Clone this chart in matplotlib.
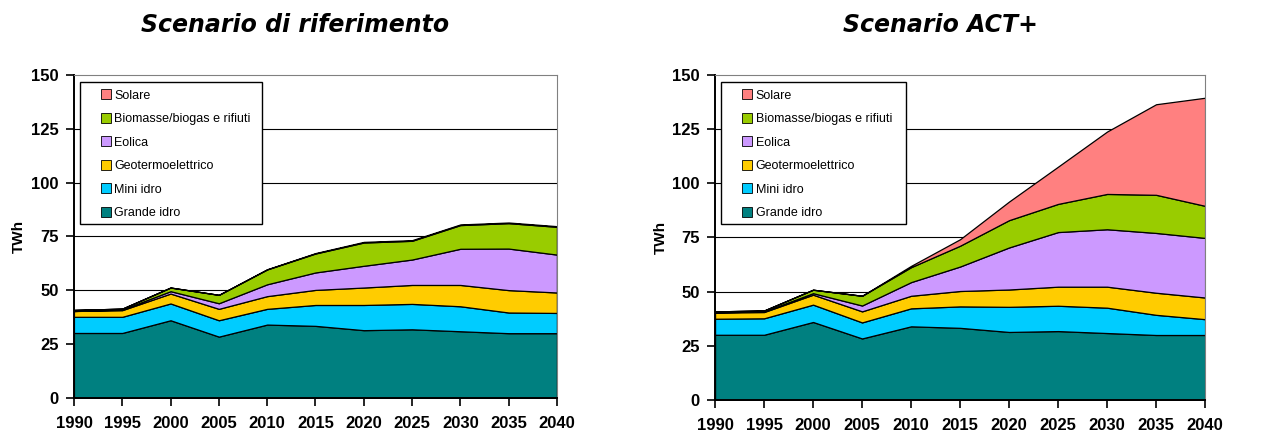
import matplotlib.pyplot as plt
from matplotlib.patches import Rectangle
from matplotlib.lines import Line2D

plt.rcParams['font.family'] = ['Liberation Sans', 'DejaVu Sans']

anni = [1990, 1995, 2000, 2005, 2010, 2015, 2020, 2025, 2030, 2035, 2040]
fonti = ["Grande idro", "Mini idro", "Geotermoelettrico", "Eolica",
         "Biomasse/biogas e rifiuti", "Solare"]
colori = ["#008080", "#00CCFF", "#FFCC00", "#CC99FF", "#99CC00", "#FF8080"]

# Scenario di riferimento (TWh)
rif_grande = [30.2, 30.2, 36.1, 28.5, 34.1, 33.5, 31.5, 31.9, 31.0, 30.1, 30.1]
rif_mini = [7.5, 7.5, 7.8, 7.6, 7.3, 9.7, 11.7, 11.8, 11.6, 9.6, 9.4]
rif_geo = [2.7, 3.1, 4.6, 5.3, 5.9, 7.0, 8.1, 8.8, 9.9, 10.4, 9.5]
rif_eolica = [0.0, 0.3, 1.1, 2.6, 5.5, 8.1, 10.1, 11.8, 16.8, 19.3, 17.6]
rif_bio = [0.5, 0.4, 1.7, 3.9, 6.9, 8.8, 10.8, 8.7, 11.0, 11.8, 12.9]
rif_solare = [0.0, 0.0, 0.0, 0.0, 0.1, 0.2, 0.3, 0.3, 0.3, 0.3, 0.3]

# Scenario ACT+ (TWh)
act_grande = [30.1, 30.1, 36.0, 28.4, 34.0, 33.3, 31.4, 31.8, 30.9, 30.0, 30.0]
act_mini = [7.4, 7.6, 8.0, 7.4, 8.3, 9.9, 11.6, 11.7, 11.7, 9.3, 7.3]
act_geo = [2.9, 2.9, 4.6, 5.1, 5.8, 7.1, 8.0, 8.8, 9.7, 10.2, 10.0]
act_eolica = [0.0, 0.3, 0.7, 2.7, 6.3, 11.3, 19.4, 25.2, 26.5, 27.6, 27.5]
act_bio = [0.5, 0.4, 1.6, 4.5, 6.9, 9.6, 12.6, 13.0, 16.3, 17.6, 14.8]
act_solare = [0.0, 0.0, 0.0, 0.0, 0.6, 3.0, 8.6, 17.2, 28.8, 41.8, 49.9]

titoli = ["Scenario di riferimento", "Scenario ACT+"]
yticks = [0, 25, 50, 75, 100, 125, 150]

fig = plt.figure(figsize=(12.64, 4.32), dpi=100)
ax1 = fig.add_axes([0.0585, 0.0787, 0.3821, 0.7477])
ax2 = fig.add_axes([0.5657, 0.0741, 0.3877, 0.7523])

dati = [
    [rif_grande, rif_mini, rif_geo, rif_eolica, rif_bio, rif_solare],
    [act_grande, act_mini, act_geo, act_eolica, act_bio, act_solare],
]

for ax, serie in zip([ax1, ax2], dati):
    ax.stackplot(anni, *serie, colors=colori, edgecolor="black",
                 linewidth=0.9, zorder=2)
    ax.set_xlim(1990, 2040)
    ax.set_ylim(0, 150)
    ax.set_xticks(anni)
    ax.set_yticks(yticks)
    for y in yticks[1:-1]:
        ax.axhline(y, color="black", linewidth=0.8, zorder=1)
    ax.tick_params(direction="out", length=6, width=1.2, labelsize=12,
                   colors="black", pad=5)
    ax.tick_params(axis="x", pad=7)
    for lab in ax.get_xticklabels() + ax.get_yticklabels():
        lab.set_fontweight("bold")
    ax.spines["left"].set_linewidth(1.4)
    ax.spines["bottom"].set_linewidth(1.4)
    ax.spines["top"].set_color("#808080")
    ax.spines["right"].set_color("#808080")

    # legend box drawn by hand so the padding matches
    ax.add_patch(Rectangle((0.012, 0.54), 0.377, 0.437, transform=ax.transAxes,
                           facecolor="white", edgecolor="black", linewidth=1.0,
                           zorder=4))
    handles = [Line2D([], [], marker="s", linestyle="none", markersize=7.5,
                      markerfacecolor=c, markeredgecolor="black",
                      markeredgewidth=0.6)
               for c in colori[::-1]]
    leg = ax.legend(handles, fonti[::-1], loc="upper left",
                    bbox_to_anchor=(0.033, 0.985), frameon=False,
                    fontsize=9, labelspacing=0.92, handlelength=1.0,
                    handletextpad=0.15, borderpad=0.3)
    leg.set_zorder(5)
    ax.set_ylabel("TWh", fontsize=11, fontweight="bold")

ax1.yaxis.set_label_coords(-0.100, 0.5)
ax2.yaxis.set_label_coords(-0.097, 0.5)

fig.text(295 / 1264, 1 - 25 / 432, titoli[0], ha="center", va="center",
         fontsize=17, fontweight="bold", fontstyle="italic",
         family="DejaVu Sans")
fig.text(940 / 1264, 1 - 25 / 432, titoli[1], ha="center", va="center",
         fontsize=17, fontweight="bold", fontstyle="italic",
         family="DejaVu Sans")

fig.savefig("out.png", dpi=100, facecolor="white")
